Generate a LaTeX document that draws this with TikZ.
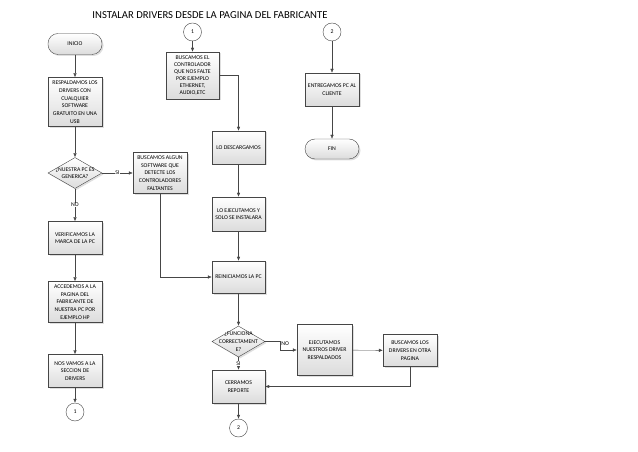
\documentclass[tikz,border=0pt]{standalone}
\usepackage{fontspec}
\setmainfont{Carlito}
\usepackage{tikz}
\usetikzlibrary{arrows.meta,shapes.geometric,shadows}
\definecolor{boxline}{RGB}{70,70,70}
\definecolor{boxtop}{RGB}{255,255,255}
\definecolor{boxbottom}{RGB}{220,220,220}

\begin{document}
\begin{tikzpicture}[x=1bp,y=-1bp,every node/.style={font=\fontsize{5.8}{7.7}\selectfont},
  proc/.style={draw=boxline,top color=boxtop,bottom color=boxbottom,align=center,minimum width=54bp,inner sep=1bp,
    drop shadow={shadow xshift=1.5bp,shadow yshift=-1.5bp,opacity=0.25}},
  term/.style={proc,rounded corners=10bp,minimum height=21bp},
  dec/.style={diamond,draw=boxline,top color=boxtop,bottom color=boxbottom,minimum width=54bp,minimum height=31bp,inner sep=0pt,
    drop shadow={shadow xshift=1.5bp,shadow yshift=-1.5bp,opacity=0.25}},
  conn/.style={circle,draw=boxline,fill=white,minimum size=18bp,inner sep=0pt},
  flow/.style={draw=boxline,-{Latex[length=4bp,width=3.5bp]}},
  lbl/.style={fill=white,inner sep=0.6bp}]
\useasboundingbox (0,0) rectangle (638,452);
\node[font=\fontsize{10.7}{13}\selectfont] (title) at (210,15) {INSTALAR DRIVERS DESDE LA PAGINA DEL FABRICANTE};

\node[term] (inicio) at (75,44) {INICIO};
\node[proc,minimum height=49bp] (respaldo) at (75,102) {RESPALDAMOS LOS\\DRIVERS CON\\CUALQUIER\\SOFTWARE\\GRATUITO EN UNA\\USB};
\node[dec,label={[align=center]center:{¿NUESTRA PC ES\\GENERICA?}}] (generica) at (75,173) {};
\node[proc,minimum height=41bp] (buscaalg) at (160,173) {BUSCAMOS ALGUN\\SOFTWARE QUE\\DETECTE LOS\\CONTROLADORES\\FALTANTES};
\node[proc,minimum height=33bp] (verifica) at (75,238) {VERIFICAMOS LA\\MARCA DE LA PC};
\node[proc,minimum height=41bp] (accede) at (75,302) {ACCEDEMOS A LA\\PAGINA DEL\\FABRICANTE DE\\NUESTRA PC POR\\EJEMPLO HP};
\node[proc,minimum height=33bp] (vamos) at (75,371) {NOS VAMOS A LA\\SECCION DE\\DRIVERS};
\node[conn] (cuno) at (75,412) {1};

\node[conn] (cunob) at (192.5,32) {1};
\node[proc,minimum width=53bp,minimum height=47bp,inner sep=0.5bp,font=\fontsize{5.8}{7.2}\selectfont] (busctrl) at (192.5,75.5) {BUSCAMOS EL\\CONTROLADOR\\QUE NOS FALTE\\POR EJEMPLO\\ETHERNET,\\AUDIO,ETC};
\node[proc,minimum width=53bp,minimum height=33bp] (descarga) at (238.5,147.5) {LO DESCARGAMOS};
\node[proc,minimum width=53bp,minimum height=34bp] (ejecuta) at (238.5,214) {LO EJECUTAMOS Y\\SOLO SE INSTALARA};
\node[proc,minimum width=53bp,minimum height=32bp] (reinicia) at (238.5,277) {REINICIAMOS LA PC};
\node[dec,minimum width=53bp,label={[align=center]center:{¿FUNCIONA\\CORRECTAMENT\\E?}}] (funciona) at (238.5,341.5) {};
\node[proc,minimum width=53bp,minimum height=33bp] (cerramos) at (238.5,386.5) {CERRAMOS\\REPORTE};
\node[conn] (cdos) at (238.5,428) {2};
\node[proc,minimum width=55bp,minimum height=51bp] (ejecnues) at (324.5,350) {EJECUTAMOS\\NUESTROS DRIVER\\RESPALDADOS};
\node[proc,minimum height=32bp] (buscalos) at (410,350.5) {BUSCAMOS LOS\\DRIVERS EN OTRA\\PAGINA};

\node[conn] (cdosb) at (332,32) {2};
\node[proc,minimum height=33bp] (entrega) at (332,89.5) {ENTREGAMOS PC AL\\CLIENTE};
\node[term,minimum height=20bp] (fin) at (332,149) {FIN};

\draw[flow] (inicio) -- (respaldo);
\draw[flow] (respaldo) -- (generica);
\draw[flow] (generica) -- node[lbl]{SI} (buscaalg);
\draw[flow] (generica) -- node[lbl]{NO} (verifica);
\draw[flow] (verifica) -- (accede);
\draw[flow] (accede) -- (vamos);
\draw[flow] (vamos) -- (cuno);
\draw[flow] (cunob) -- (busctrl);
\draw[flow] (busctrl.east) -| (descarga.north);
\draw[flow] (descarga) -- (ejecuta);
\draw[flow] (ejecuta) -- (reinicia);
\draw[flow] (buscaalg.south) |- (reinicia.west);
\draw[flow] (reinicia) -- (funciona);
\draw[flow] (funciona.east) -- ++(15,0) node[right,inner sep=1bp,yshift=-2bp]{NO} |- (ejecnues.west);
\draw[flow] (funciona) -- node[lbl]{SI} (cerramos);
\draw[flow] (ejecnues) -- (buscalos);
\draw[flow] (buscalos.south) |- (cerramos.east);
\draw[flow] (cerramos) -- (cdos);
\draw[flow] (cdosb) -- (entrega);
\draw[flow] (entrega) -- (fin);
\end{tikzpicture}
\end{document}
